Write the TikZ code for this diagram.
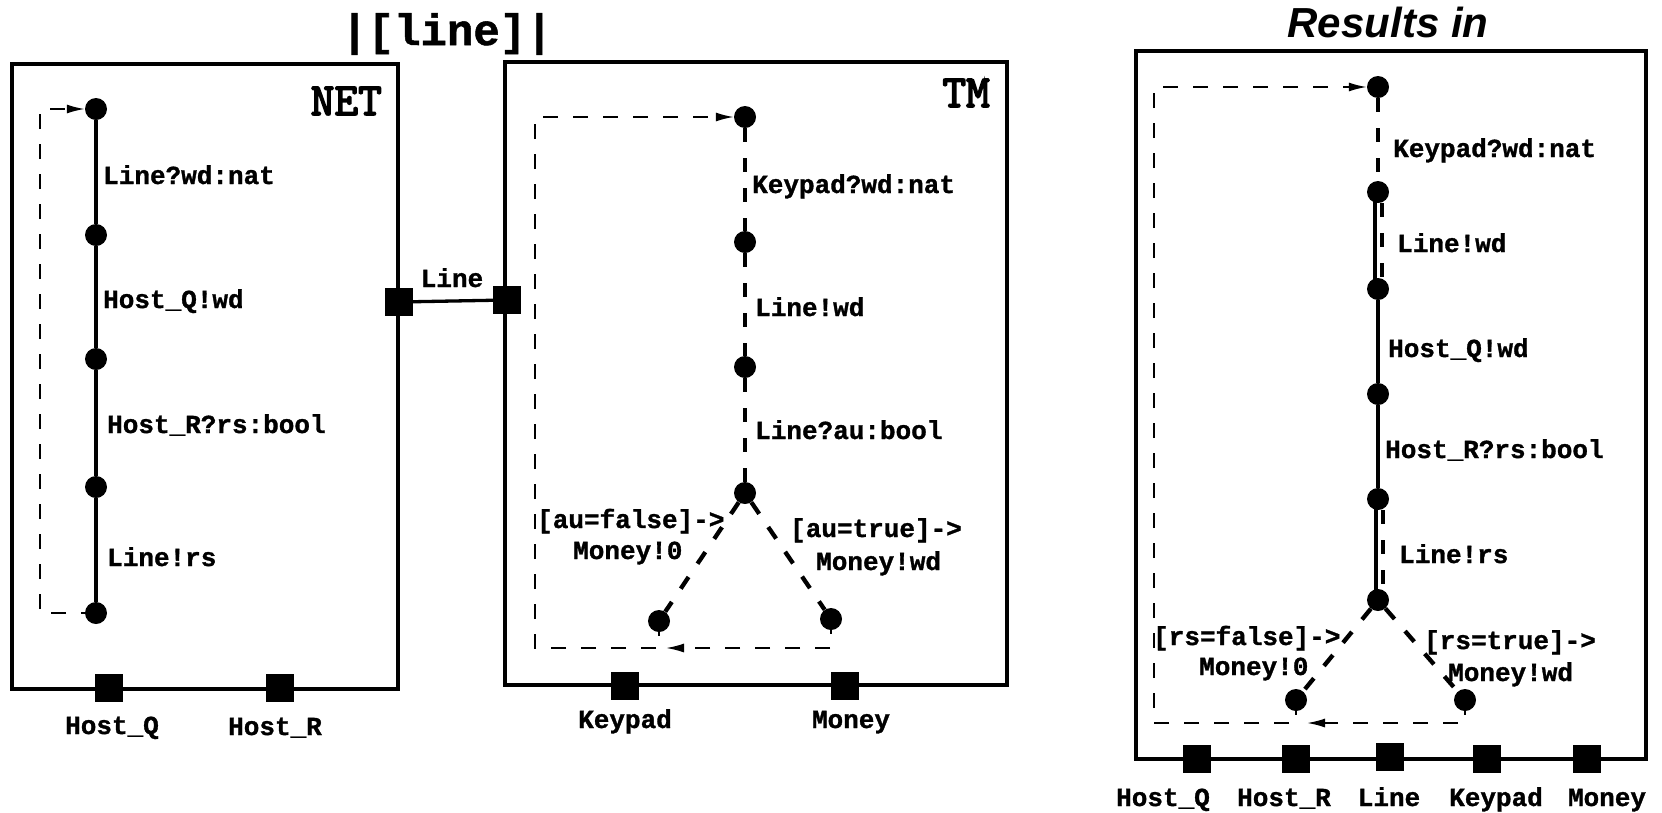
\documentclass[tikz,border=0pt]{standalone}
\usepackage{fontspec}
\setmonofont{Liberation Mono}[BoldFeatures={FakeBold=1.2}]
\newfontfamily\helvfont{Liberation Sans}
\newfontfamily\slabfont{Latin Modern Mono}[FakeBold=3.5]
\usetikzlibrary{arrows.meta}
\tikzset{
  st/.style={circle,fill=black,inner sep=0pt,minimum size=22pt},
  gate/.style={rectangle,fill=black,inner sep=0pt,minimum size=28pt},
  lbl/.style={anchor=base west,inner sep=0pt,font=\ttfamily\bfseries\fontsize{26}{28}\selectfont},
  gatelbl/.style={lbl,anchor=base},
  title/.style={anchor=base east,inner sep=0pt,font=\slabfont\fontsize{46}{48}\selectfont},
  boxline/.style={line width=3.3pt},
  tr/.style={line width=3.3pt},
  trd/.style={line width=4.3pt,dash pattern=on 14pt off 16pt},
  loopline/.style={line width=1.7pt,dash pattern=on 15pt off 15pt},
}
\begin{document}
\begin{tikzpicture}[x=1pt,y=-1pt,>={Latex[length=18pt,width=9pt]},line join=miter]
\useasboundingbox (0,0) rectangle (1662,812);
%%
\node (parop) at (447,45) [anchor=base,inner sep=0pt,font=\ttfamily\bfseries\fontsize{44}{46}\selectfont] {|[line]|};
\node (resultsin) at (1388,37) [anchor=base,inner sep=0pt,font=\helvfont\bfseries\itshape\fontsize{42}{44}\selectfont] {Results in};
%% NET
\draw [boxline] (12,64) rectangle (398,689);
\node (NET) at (382,115) [title] {NET};
\node (net0) at (96,109) [st] {};
\node (net1) at (96,235) [st] {};
\node (net2) at (96,359) [st] {};
\node (net3) at (96,487) [st] {};
\node (net4) at (96,613) [st] {};
\node (netline) at (399,302) [gate] {};
\node (nethostq) at (109,688) [gate] {};
\node (nethostr) at (280,688) [gate] {};
\draw [tr] (net0) -- (net1);
\draw [tr] (net1) -- (net2);
\draw [tr] (net2) -- (net3);
\draw [tr] (net3) -- (net4);
\node at (103,184) [lbl] {Line?wd:nat};
\node at (103,308) [lbl] {Host\_Q!wd};
\node at (107,433) [lbl] {Host\_R?rs:bool};
\node at (107,566) [lbl] {Line!rs};
\node at (112,734) [gatelbl] {Host\_Q};
\node at (275,735) [gatelbl] {Host\_R};
\coordinate (netx) at (40,0);
\draw [loopline,->] (net4.center) -- (net4.center -| netx) |- (net0);
%% TM
\draw [boxline] (505,62) rectangle (1007,685);
\node (TM) at (990,107) [title] {TM};
\node (tm0) at (745,117) [st] {};
\node (tm1) at (745,242) [st] {};
\node (tm2) at (745,367) [st] {};
\node (tm3) at (745,493) [st] {};
\node (tmfalse) at (659,621) [st] {};
\node (tmtrue) at (831,619) [st] {};
\node (tmline) at (507,300) [gate] {};
\node (tmkeypad) at (625,686) [gate] {};
\node (tmmoney) at (845,686) [gate] {};
\draw [trd] (tm0) -- (tm1);
\draw [trd] (tm1) -- (tm2);
\draw [trd] (tm2) -- (tm3);
\draw [trd] (tm3) -- (tmfalse);
\draw [trd] (tm3) -- (tmtrue);
\node at (752,193) [lbl] {Keypad?wd:nat};
\node at (755,316) [lbl] {Line!wd};
\node at (755,439) [lbl] {Line?au:bool};
\node at (537,528) [lbl] {[au=false]->};
\node at (573,559) [lbl] {Money!0};
\node at (790,537) [lbl] {[au=true]->};
\node at (816,570) [lbl] {Money!wd};
\node at (625,728) [gatelbl] {Keypad};
\node at (851,728) [gatelbl] {Money};
\coordinate (tmcorner) at (535,648);
\coordinate (tmjoin) at (666,648);
\draw [loopline,->] (tmfalse.center) |- (tmcorner) |- (tm0);
\draw [loopline,->] (tmtrue.center) |- (tmjoin);
%% channel between NET and TM
\draw [tr] (netline) -- (tmline);
\node at (452,287) [gatelbl] {Line};
%% composed machine
\draw [boxline] (1136,51) rectangle (1646,759);
\node (res0) at (1378,87) [st] {};
\node (res1) at (1378,192) [st] {};
\node (res2) at (1378,289) [st] {};
\node (res3) at (1378,394) [st] {};
\node (res4) at (1378,499) [st] {};
\node (res5) at (1378,600) [st] {};
\node (resfalse) at (1296,700) [st] {};
\node (restrue) at (1465,700) [st] {};
\node (reshostq) at (1197,759) [gate] {};
\node (reshostr) at (1296,759) [gate] {};
\node (resline) at (1390,757) [gate] {};
\node (reskeypad) at (1487,759) [gate] {};
\node (resmoney) at (1587,759) [gate] {};
\draw [trd] (res0) -- (res1);
\draw [tr] ([xshift=-3pt]res1.center) -- ([xshift=-3pt]res2.center);
\draw [trd] ([xshift=4pt]res1.south) -- ([xshift=4pt]res2.north);
\draw [tr] (res2) -- (res3);
\draw [tr] (res3) -- (res4);
\draw [tr] ([xshift=-2pt]res4.center) -- ([xshift=-2pt]res5.center);
\draw [trd] ([xshift=5pt]res4.south) -- ([xshift=5pt]res5.north);
\draw [trd] (res5) -- (resfalse);
\draw [trd] (res5) -- (restrue);
\node at (1393,157) [lbl] {Keypad?wd:nat};
\node at (1397,252) [lbl] {Line!wd};
\node at (1388,357) [lbl] {Host\_Q!wd};
\node at (1385,458) [lbl] {Host\_R?rs:bool};
\node at (1399,563) [lbl] {Line!rs};
\node at (1153,645) [lbl] {[rs=false]->};
\node at (1199,675) [lbl] {Money!0};
\node at (1424,649) [lbl] {[rs=true]->};
\node at (1448,681) [lbl] {Money!wd};
\node at (1163,806) [gatelbl] {Host\_Q};
\node at (1284,806) [gatelbl] {Host\_R};
\node at (1389,806) [gatelbl] {Line};
\node at (1496,806) [gatelbl] {Keypad};
\node at (1607,806) [gatelbl] {Money};
\coordinate (rescorner) at (1154,723);
\coordinate (resjoin) at (1307,723);
\draw [loopline,->] (resfalse.center) |- (rescorner) |- (res0);
\draw [loopline,->] (restrue.center) |- (resjoin);
%
\end{tikzpicture}
\end{document}
